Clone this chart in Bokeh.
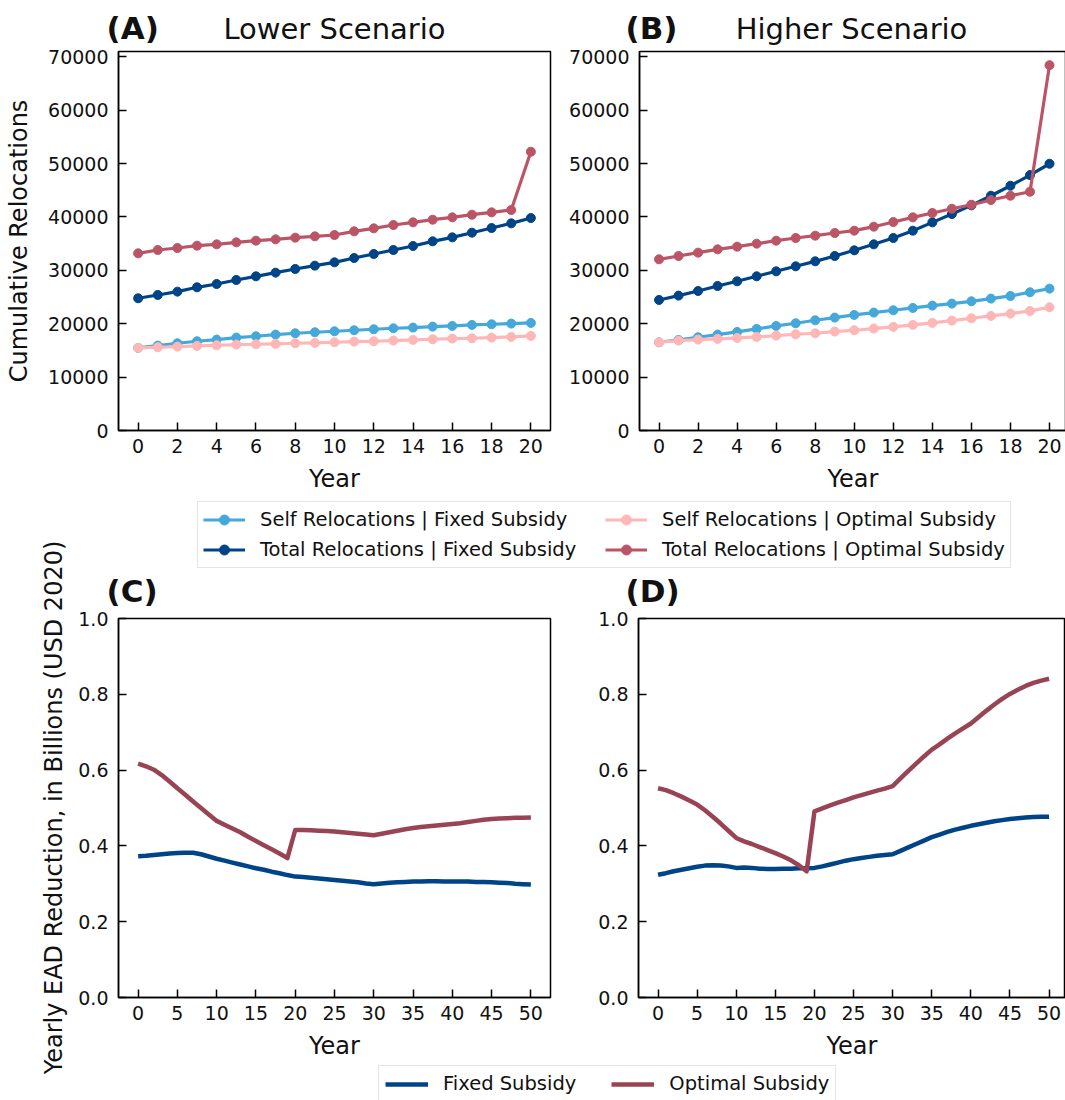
import numpy as np
from bokeh.plotting import figure
from bokeh.models import Label, Legend, LegendItem, FixedTicker, Range1d, PrintfTickFormatter
from bokeh.layouts import row, column
from bokeh.embed import file_html
from bokeh.resources import INLINE

# ---------------- data ----------------
years_short = list(range(21))
years_long = list(range(51))

lower_self_fixed = [15472, 15909, 16345, 16720, 17032, 17406, 17655, 17967, 18217, 18404, 18591,
                    18779, 18966, 19153, 19278, 19465, 19589, 19777, 19902, 20026, 20151]
lower_total_fixed = [24768, 25392, 26016, 26826, 27450, 28199, 28885, 29572, 30258, 30882, 31505,
                     32316, 33065, 33814, 34562, 35436, 36184, 37058, 37931, 38805, 39803]
lower_self_opt = [15472, 15597, 15721, 15846, 15971, 16096, 16158, 16220, 16345, 16408, 16533,
                  16657, 16720, 16845, 16969, 17094, 17219, 17281, 17406, 17531, 17718]
lower_total_opt = [33190, 33814, 34188, 34625, 34875, 35249, 35561, 35810, 36122, 36372, 36621,
                   37307, 37869, 38493, 38992, 39491, 39928, 40427, 40864, 41300, 52218]

higher_self_fixed = [16532, 16969, 17468, 17967, 18466, 19028, 19589, 20089, 20650, 21149, 21648,
                     22085, 22522, 22958, 23395, 23770, 24206, 24705, 25205, 25891, 26577]
higher_total_fixed = [24456, 25267, 26140, 27076, 27949, 28885, 29821, 30757, 31692, 32691, 33751,
                      34874, 36060, 37432, 38992, 40552, 42174, 43983, 45854, 47851, 49972]
higher_self_opt = [16532, 16845, 17032, 17157, 17343, 17531, 17780, 18030, 18217, 18529, 18779,
                   19090, 19402, 19777, 20151, 20588, 21024, 21461, 21898, 22397, 23083]
higher_total_opt = [32067, 32691, 33315, 33939, 34438, 34999, 35561, 36060, 36497, 36996, 37432,
                    38181, 39054, 39928, 40739, 41550, 42299, 43172, 43983, 44731, 68439]

lower_ead_fixed = [0.373, 0.374, 0.376, 0.378, 0.380, 0.381, 0.382, 0.382, 0.378, 0.372, 0.366,
                   0.361, 0.356, 0.351, 0.346, 0.341, 0.337, 0.332, 0.328, 0.323, 0.319,
                   0.318, 0.316, 0.314, 0.312, 0.310, 0.308, 0.306, 0.304, 0.301, 0.299,
                   0.301, 0.303, 0.304, 0.305, 0.306, 0.306, 0.307, 0.307, 0.306, 0.306,
                   0.306, 0.306, 0.305, 0.305, 0.304, 0.303, 0.302, 0.300, 0.299, 0.298]
lower_ead_opt = [0.617, 0.610, 0.601, 0.587, 0.570, 0.552, 0.535, 0.517, 0.500, 0.483, 0.466,
                 0.456, 0.446, 0.436, 0.424, 0.413, 0.402, 0.391, 0.380, 0.368, 0.442,
                 0.442, 0.441, 0.440, 0.439, 0.438, 0.436, 0.434, 0.432, 0.430, 0.428,
                 0.432, 0.436, 0.440, 0.444, 0.447, 0.450, 0.452, 0.454, 0.456, 0.458,
                 0.460, 0.463, 0.466, 0.469, 0.471, 0.472, 0.473, 0.474, 0.474, 0.475]
higher_ead_fixed = [0.324, 0.328, 0.333, 0.337, 0.341, 0.345, 0.348, 0.349, 0.348, 0.346, 0.342,
                    0.343, 0.342, 0.340, 0.339, 0.339, 0.340, 0.340, 0.341, 0.341, 0.342,
                    0.346, 0.351, 0.356, 0.361, 0.365, 0.368, 0.371, 0.374, 0.376, 0.378,
                    0.387, 0.396, 0.405, 0.414, 0.423, 0.430, 0.437, 0.443, 0.448, 0.453,
                    0.457, 0.461, 0.465, 0.468, 0.471, 0.473, 0.475, 0.476, 0.477, 0.477]
higher_ead_opt = [0.552, 0.547, 0.539, 0.530, 0.520, 0.509, 0.494, 0.477, 0.459, 0.440, 0.421,
                  0.412, 0.405, 0.397, 0.389, 0.381, 0.372, 0.362, 0.349, 0.333, 0.491,
                  0.499, 0.507, 0.514, 0.521, 0.528, 0.534, 0.540, 0.546, 0.551, 0.558,
                  0.578, 0.598, 0.617, 0.636, 0.654, 0.668, 0.683, 0.697, 0.710, 0.723,
                  0.740, 0.757, 0.773, 0.788, 0.801, 0.812, 0.822, 0.830, 0.836, 0.841]

top_xticks = list(range(0, 21, 2))
top_yticks = [0, 10000, 20000, 30000, 40000, 50000, 60000, 70000]
bot_xticks = list(range(0, 51, 5))
bot_yticks = [0.0, 0.2, 0.4, 0.6, 0.8, 1.0]

top_labels = ["Self Relocations | Fixed Subsidy", "Total Relocations | Fixed Subsidy",
              "Self Relocations | Optimal Subsidy", "Total Relocations | Optimal Subsidy"]
bot_labels = ["Fixed Subsidy", "Optimal Subsidy"]

# ---------------- style ----------------
FONT = "DejaVu Sans"
TXT = "#111111"
C_SELF_FIXED = "#45A8DA"
C_TOTAL_FIXED = "#004488"
C_SELF_OPT = "#FFB6B6"
C_TOTAL_OPT = "#BB5566"
C_EAD_FIXED = "#004488"
C_EAD_OPT = "#994455"
top_colors = [C_SELF_FIXED, C_TOTAL_FIXED, C_SELF_OPT, C_TOTAL_OPT]

FRAME_H = 379


def make_panel(xr, yr, frame_w, left, right, top, bottom, xticks, yticks, yfmt, ylabel=None):
    p = figure(frame_width=frame_w, frame_height=FRAME_H, x_range=xr, y_range=yr,
               min_border_left=left, min_border_right=right, min_border_top=top,
               min_border_bottom=bottom,
               output_backend="svg", toolbar_location=None,
               background_fill_color="white", border_fill_color="white")
    p.xgrid.visible = False
    p.ygrid.visible = False
    p.outline_line_color = "black"
    p.outline_line_width = 1.5
    p.xaxis.ticker = FixedTicker(ticks=xticks)
    p.yaxis.ticker = FixedTicker(ticks=yticks)
    p.yaxis.formatter = PrintfTickFormatter(format=yfmt)
    for ax in (p.xaxis[0], p.yaxis[0]):
        ax.major_tick_in = 8
        ax.major_tick_out = 0
        ax.minor_tick_line_color = None
        ax.axis_line_width = 1.5
        ax.major_tick_line_width = 1.5
        ax.axis_line_color = "black"
        ax.major_tick_line_color = "black"
        ax.major_label_text_font = FONT
        ax.major_label_text_font_size = "19px"
        ax.major_label_text_color = TXT
        ax.axis_label_text_font = FONT
        ax.axis_label_text_font_size = "24px"
        ax.axis_label_text_font_style = "normal"
        ax.axis_label_text_color = TXT
    p.xaxis.major_label_standoff = 8
    p.yaxis.major_label_standoff = 10
    p.xaxis.axis_label = "Year"
    p.xaxis.axis_label_standoff = 9
    if ylabel:
        p.yaxis.axis_label = ylabel
        p.yaxis.axis_label_standoff = 12
    return p


def draw_top(p, series):
    for ys, col in zip(series, top_colors):
        p.line(years_short, ys, line_color=col, line_width=3.2, line_join="round")
        p.scatter(years_short, ys, size=9, fill_color=col, line_color=col)


def draw_bottom(p, fixed, opt):
    p.line(years_long, fixed, line_color=C_EAD_FIXED, line_width=4.5, line_join="round")
    p.line(years_long, opt, line_color=C_EAD_OPT, line_width=4.5, line_join="round")


def blank_fig(w, h, yoff=0):
    f = figure(width=w, height=h, x_range=Range1d(0, w), y_range=Range1d(yoff, yoff + h),
               min_border=0, output_backend="svg", toolbar_location=None,
               background_fill_color="white", border_fill_color="white")
    f.axis.visible = False
    f.grid.visible = False
    f.outline_line_color = None
    return f


def tag(text, x, y):
    return Label(x=x, y=y, text=text, text_font=FONT, text_font_size="31px",
                 text_font_style="bold", text_color=TXT, text_align="left",
                 text_baseline="middle")


def title(text, x, y):
    return Label(x=x, y=y, text=text, text_font=FONT, text_font_size="29px",
                 text_color=TXT, text_align="center", text_baseline="middle")


# header with panel tags and titles for the top row
HEADER_H = 45
header = blank_fig(1065, HEADER_H)
header.add_layout(tag("(A)", 106, HEADER_H - 27))
header.add_layout(title("Lower Scenario", 334, HEADER_H - 28))
header.add_layout(tag("(B)", 625, HEADER_H - 27))
header.add_layout(title("Higher Scenario", 851, HEADER_H - 28))

pA = make_panel(Range1d(-1, 21), Range1d(0, 71000), 432, 118, 16, 6, 65,
                top_xticks, top_yticks, "%d", ylabel="Cumulative Relocations")
draw_top(pA, [lower_self_fixed, lower_total_fixed, lower_self_opt, lower_total_opt])

pB = make_panel(Range1d(-1, 20.87), Range1d(0, 71000), 427, 72, 0, 6, 65,
                top_xticks, top_yticks, "%d")
draw_top(pB, [higher_self_fixed, higher_total_fixed, higher_self_opt, higher_total_opt])

pC = make_panel(Range1d(-2.5, 52.5), Range1d(0, 1), 432, 48, 16, 10, 63,
                bot_xticks, bot_yticks, "%.1f")
draw_bottom(pC, lower_ead_fixed, lower_ead_opt)

pD = make_panel(Range1d(-2.5, 52.1), Range1d(0, 1), 427, 72, 0, 10, 63,
                bot_xticks, bot_yticks, "%.1f")
draw_bottom(pD, higher_ead_fixed, higher_ead_opt)

# legend 1 (+ tags C and D underneath); series drawn outside the visible range
LEG1_H = 113
YOFF = -200
leg1 = blank_fig(995, LEG1_H, yoff=YOFF)
items1 = []
for ys, lab, col in zip([lower_self_fixed, lower_total_fixed, lower_self_opt, lower_total_opt],
                        top_labels, top_colors):
    rl = leg1.line(years_short, ys, line_color=col, line_width=3.2)
    rs = leg1.scatter(years_short, ys, size=9, fill_color=col, line_color=col)
    items1.append(LegendItem(label=lab, renderers=[rl, rs]))
L1 = Legend(items=items1, location=(127, LEG1_H - 73), ncols=2, orientation="vertical",
            label_text_font=FONT, label_text_font_size="19.5px", label_text_color=TXT,
            glyph_width=42, glyph_height=25, label_height=25, label_width=340,
            label_standoff=15, padding=5, spacing=5, margin=0,
            border_line_color="#cccccc", border_line_width=1.2,
            background_fill_color="white", background_fill_alpha=1.0)
leg1.add_layout(L1, "center")
leg1.add_layout(tag("(C)", 106 - 70, YOFF + 18))
leg1.add_layout(tag("(D)", 625 - 70, YOFF + 18))

# legend 2
leg2 = blank_fig(995, 38, yoff=YOFF)
items2 = []
for ys, lab, col in zip([lower_ead_fixed, lower_ead_opt], bot_labels, [C_EAD_FIXED, C_EAD_OPT]):
    rl = leg2.line(years_long, ys, line_color=col, line_width=4.5)
    items2.append(LegendItem(label=lab, renderers=[rl]))
L2 = Legend(items=items2, location=(308, -2), orientation="horizontal",
            label_text_font=FONT, label_text_font_size="19.5px", label_text_color=TXT,
            glyph_width=43, glyph_height=20, label_height=20, label_standoff=15,
            padding=6, spacing=35, margin=0,
            border_line_color="#cccccc", border_line_width=1.2,
            background_fill_color="white", background_fill_alpha=1.0)
leg2.add_layout(L2, "center")

# strip with shared y label for bottom panels
strip = blank_fig(70, 603)
strip.add_layout(Label(x=53, y=291, text="Yearly EAD Reduction, in Billions (USD 2020)",
                       angle=np.pi / 2, text_font=FONT, text_font_size="24px",
                       text_color=TXT, text_align="center", text_baseline="middle"))

layout = column(header,
                row(pA, pB),
                row(strip, column(leg1, row(pC, pD), leg2)))

open("out.html", "w").write(file_html(layout, INLINE))
